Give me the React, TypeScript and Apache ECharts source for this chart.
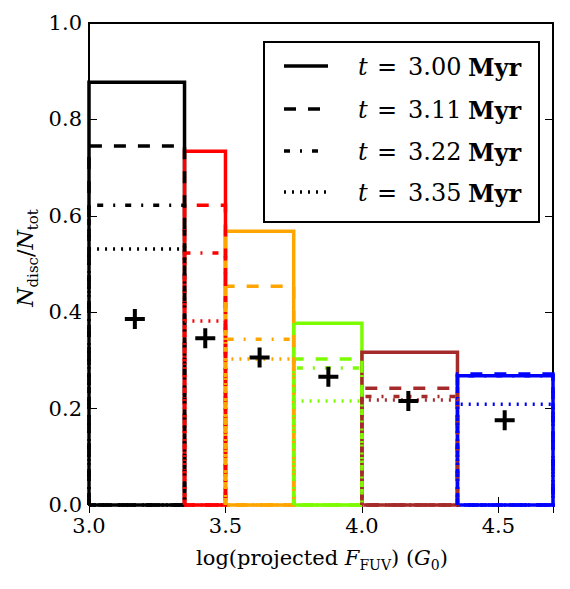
import React, { useEffect, useRef } from 'react';
import * as echarts from 'echarts';

// ---- data ----
const binEdges = [3.0, 3.35, 3.5, 3.75, 4.0, 4.35, 4.7];
const binColors = ['#000000', '#ff0000', '#ffa500', '#7cfc00', '#a52a2a', '#0000ff'];
const timeLabels = ['3.00', '3.11', '3.22', '3.35'];
const frac300 = [0.877, 0.734, 0.568, 0.377, 0.317, 0.268];
const frac311 = [0.745, 0.622, 0.454, 0.303, 0.242, 0.272];
const frac322 = [0.622, 0.523, 0.344, 0.284, 0.225, 0.268];
const frac335 = [0.531, 0.382, 0.303, 0.216, 0.218, 0.209];
const obsX = [3.168, 3.426, 3.625, 3.877, 4.17, 4.523];
const obsY = [0.386, 0.346, 0.306, 0.266, 0.216, 0.176];

const FONT = '"DejaVu Serif", serif';
const allFracs = [frac300, frac311, frac322, frac335];
const dashStyles: any[] = ['solid', [12, 12], [6, 10, 2, 10], [2, 6]];
const LW = 3.5;

function tickFmt(v: number) {
  if (Math.abs(v * 2 - Math.round(v * 2)) > 1e-6) return '';
  return v.toFixed(1);
}
function tickFmtY(v: number) {
  if (Math.abs(v * 5 - Math.round(v * 5)) > 1e-6) return '';
  return v.toFixed(1);
}

export default function App() {
  const ref = useRef<HTMLDivElement>(null);
  useEffect(() => {
    document.body.style.margin = '0';
    const chart = echarts.init(ref.current!, null, { renderer: 'svg' });

    const series: any[] = [];
    allFracs.forEach((fr, j) => {
      fr.forEach((h, i) => {
        const x0 = binEdges[i];
        const x1 = binEdges[i + 1];
        series.push({
          type: 'line',
          data: [[x0, 0], [x0, h], [x1, h], [x1, 0], [x0, 0]],
          symbol: 'none',
          clip: false,
          silent: true,
          lineStyle: { color: binColors[i], width: LW, type: dashStyles[j], cap: 'butt', join: 'miter' },
          z: 2 + j,
        });
      });
    });
    series.push({
      type: 'scatter',
      data: obsX.map((x, i) => [x, obsY[i]]),
      symbol: 'path://M-1,-5L1,-5L1,-1L5,-1L5,1L1,1L1,5L-1,5L-1,1L-5,1L-5,-1L-1,-1Z',
      symbolSize: 20,
      itemStyle: { color: '#000', opacity: 1 },
      silent: true,
      z: 10,
    });

    const axTick = { show: true, inside: true, length: 8, lineStyle: { color: '#000', width: 1 } };

    const rowY = [67, 110, 152, 193];
    const legendEls: any[] = [
      {
        type: 'rect',
        shape: { x: 264, y: 42, width: 275, height: 180 },
        style: { fill: '#fff', stroke: '#000', lineWidth: 2 },
        z: 100,
      },
    ];
    timeLabels.forEach((lab, j) => {
      const y = rowY[j];
      const dash = dashStyles[j];
      legendEls.push({
        type: 'line',
        shape: { x1: 284, y1: y - 1, x2: 328, y2: y - 1 },
        style: { stroke: '#000', lineWidth: LW, lineDash: dash === 'solid' ? null : dash, lineCap: 'butt' },
        z: 101,
      });
      legendEls.push({
        type: 'text', x: 358, y, z: 101,
        style: { text: 't', fontFamily: FONT, fontSize: 24, fontStyle: 'italic', fill: '#000', align: 'left', verticalAlign: 'middle' },
      });
      legendEls.push({
        type: 'text', x: 377, y, z: 101,
        style: { text: '=', fontFamily: FONT, fontSize: 24, fill: '#000', align: 'left', verticalAlign: 'middle' },
      });
      legendEls.push({
        type: 'text', x: 408, y, z: 101,
        style: { text: lab, fontFamily: FONT, fontSize: 24, fill: '#000', align: 'left', verticalAlign: 'middle' },
      });
      legendEls.push({
        type: 'text', x: 468, y, z: 101,
        style: { text: 'Myr', fontFamily: FONT, fontSize: 24, fontWeight: 'bold', fill: '#000', align: 'left', verticalAlign: 'middle' },
      });
    });

    const richBase = {
      r: { fontFamily: FONT, fontSize: 21, lineHeight: 28, fill: '#000' },
      i: { fontFamily: FONT, fontSize: 21, lineHeight: 28, fontStyle: 'italic', fill: '#000' },
      s: { fontFamily: FONT, fontSize: 14, lineHeight: 14, verticalAlign: 'bottom', fill: '#000' },
    };
    const richY = {
      r: { fontFamily: FONT, fontSize: 22, lineHeight: 30, fill: '#000' },
      i: { fontFamily: FONT, fontSize: 22, lineHeight: 30, fontStyle: 'italic', fill: '#000' },
      s: { fontFamily: FONT, fontSize: 15, lineHeight: 15, verticalAlign: 'bottom', fill: '#000' },
    };

    const option: any = {
      animation: false,
      grid: { left: 89, right: 17, top: 23, bottom: 84, show: true, borderColor: '#000', borderWidth: 2, backgroundColor: 'transparent' },
      xAxis: [
        {
          type: 'value', min: 3.0, max: 4.7, interval: 0.5, position: 'bottom',
          axisLine: { show: false }, axisTick: axTick, splitLine: { show: false },
          axisLabel: { formatter: tickFmt, fontFamily: FONT, fontSize: 21, color: '#000', margin: 10 },
        },
        {
          type: 'value', min: 3.0, max: 4.7, interval: 0.5, position: 'top',
          axisLine: { show: false }, axisTick: axTick, splitLine: { show: false },
          axisLabel: { show: false },
        },
      ],
      yAxis: [
        {
          type: 'value', min: 0, max: 1, interval: 0.2, position: 'left',
          axisLine: { show: false }, axisTick: axTick, splitLine: { show: false },
          axisLabel: { formatter: tickFmtY, fontFamily: FONT, fontSize: 21, color: '#000', margin: 7 },
        },
        {
          type: 'value', min: 0, max: 1, interval: 0.2, position: 'right',
          axisLine: { show: false }, axisTick: axTick, splitLine: { show: false },
          axisLabel: { show: false },
        },
      ],
      series,
      graphic: [
        ...legendEls,
        {
          type: 'text', x: 322, y: 558, z: 100,
          style: {
            text: '{r|log(projected }{i|F}{s|FUV}{r|) (}{i|G}{s|0}{r|)}',
            align: 'center', verticalAlign: 'middle', rich: richBase,
          },
        },
        {
          type: 'text', x: 25, y: 258, rotation: Math.PI / 2, z: 100,
          style: {
            text: '{i|N}{s|disc}{r|/}{i|N}{s|tot}',
            align: 'center', verticalAlign: 'middle', rich: richY,
          },
        },
      ],
    };
    chart.setOption(option);
    return () => chart.dispose();
  }, []);
  return <div ref={ref} style={{ width: 570, height: 589 }} />;
}
